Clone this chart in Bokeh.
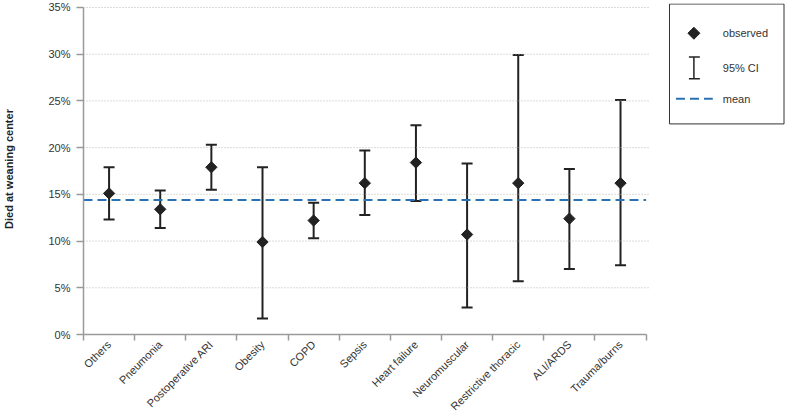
import math
from bokeh.plotting import figure
from bokeh.models import (ColumnDataSource, Range1d, FixedTicker, PrintfTickFormatter,
                          Whisker, TeeHead, LinearAxis)
from bokeh.core.properties import value
from bokeh.embed import file_html
from bokeh.resources import INLINE

# ---- data (percent) ----
categories = ["Others", "Pneumonia", "Postoperative ARI", "Obesity", "COPD", "Sepsis",
              "Heart failure", "Neuromuscular", "Restrictive thoracic", "ALI/ARDS", "Trauma/burns"]
observed = [15.1, 13.4, 17.9, 9.9, 12.2, 16.2, 18.4, 10.7, 16.2, 12.4, 16.2]
ci_low = [12.3, 11.4, 15.5, 1.7, 10.3, 12.8, 14.3, 2.9, 5.7, 7.0, 7.4]
ci_high = [17.9, 15.4, 20.3, 17.9, 14.1, 19.7, 22.4, 18.3, 29.9, 17.7, 25.1]
mean_value = 14.4
y_ticks = [0, 5, 10, 15, 20, 25, 30, 35]
legend_labels = ["observed", "95% CI", "mean"]

FONT = "Liberation Sans"
DARK = "#222222"
AXIS_GRAY = "#9a9a9a"
BLUE = "#2a72b5"

# ---- layout geometry (pixels) ----
W, H = 786, 419
FRAME_L, FRAME_R, FRAME_T = 80, 785, 3
PLOT_R = 645            # right end of the category area
Y_TOP_PX, Y_ZERO_PX = 7, 337   # pixel rows of 35% and 0% (for legend placement)

n = len(categories)
centers = [i + 0.5 for i in range(n)]
bounds = list(range(n + 1))
x_per_px = n / (PLOT_R - FRAME_L)
x_end = (FRAME_R - FRAME_L) * x_per_px
y_per_px = 35 / (Y_ZERO_PX - Y_TOP_PX)
y_end = 35 + (Y_TOP_PX - FRAME_T) * y_per_px


def px2x(px):
    return (px - FRAME_L) * x_per_px


def px2y(py):
    return (Y_ZERO_PX - py) * y_per_px


src = ColumnDataSource(dict(x=centers, obs=observed, lo=ci_low, hi=ci_high, cat=categories))

p = figure(width=W, height=H, x_range=Range1d(0, x_end), y_range=Range1d(0, y_end),
           output_backend="svg", toolbar_location=None, x_axis_type=None, y_axis_type=None,
           min_border_top=FRAME_T, min_border_left=FRAME_L, min_border_right=W - FRAME_R)
p.outline_line_color = None
p.background_fill_color = "white"
p.xgrid.visible = False
p.ygrid.visible = False

# x axis: labels at centers, ticks at category boundaries
xaxis = LinearAxis(ticker=FixedTicker(ticks=centers, minor_ticks=bounds), bounds=(0, n),
                   major_label_overrides={c: name for c, name in zip(centers, categories)})
xaxis.major_label_orientation = math.pi / 4
xaxis.major_tick_line_color = None
xaxis.major_tick_out = 0
xaxis.major_tick_in = 0
xaxis.minor_tick_out = 6
xaxis.minor_tick_in = 0
xaxis.minor_tick_line_color = AXIS_GRAY
xaxis.minor_tick_line_width = 1.5
xaxis.axis_line_color = AXIS_GRAY
xaxis.axis_line_width = 1.5
xaxis.major_label_text_font = FONT
xaxis.major_label_text_font_size = "11px"
xaxis.major_label_text_color = "#333333"
xaxis.major_label_standoff = 2
p.add_layout(xaxis, "below")

# y axis
ya = LinearAxis(ticker=FixedTicker(ticks=y_ticks), bounds=(0, 35),
                formatter=PrintfTickFormatter(format="%d%%"))
ya.axis_label = "Died at weaning center"
ya.axis_label_text_font = FONT
ya.axis_label_text_font_size = "11px"
ya.axis_label_text_font_style = "bold"
ya.axis_label_text_color = DARK
ya.axis_label_standoff = 30
ya.major_label_text_font = FONT
ya.major_label_text_font_size = "11px"
ya.major_label_text_color = "#333333"
ya.major_label_standoff = 6
ya.major_tick_out = 7
ya.major_tick_in = 0
ya.major_tick_line_color = AXIS_GRAY
ya.major_tick_line_width = 1.5
ya.minor_tick_line_color = None
ya.axis_line_color = AXIS_GRAY
ya.axis_line_width = 1.5
p.add_layout(ya, "left")

# horizontal dotted grid lines over the category area
grid_ticks = [t for t in y_ticks if t > 0]
p.segment(x0=[0] * len(grid_ticks), y0=grid_ticks, x1=[n + 0.05] * len(grid_ticks), y1=grid_ticks,
          line_color="#b5b5b5", line_width=1, line_dash="1 2")

# mean line
p.segment(x0=[0], y0=[mean_value], x1=[n], y1=[mean_value], line_color=BLUE,
          line_width=2, line_dash="9 5")

# error bars
w = Whisker(base="x", lower="lo", upper="hi", source=src, dimension="height",
            line_color=DARK, line_width=2,
            upper_head=TeeHead(size=11, line_color=DARK, line_width=2),
            lower_head=TeeHead(size=11, line_color=DARK, line_width=2))
p.add_layout(w)

# observed markers
p.scatter("x", "obs", source=src, marker="square", angle=math.pi / 4, size=8,
          fill_color=DARK, line_color=DARK)

# ---- legend box (drawn at fixed pixel spots on the right) ----
p.quad(left=[px2x(668.5)], right=[px2x(783.5)], top=[px2y(3.5)], bottom=[px2y(124.5)],
       fill_color="white", line_color="#333333", line_width=1)
p.scatter([px2x(693)], [px2y(33)], marker="square", angle=math.pi / 4, size=8.5,
          fill_color=DARK, line_color=DARK)
p.segment(x0=[px2x(693), px2x(688), px2x(688)], y0=[px2y(57), px2y(57), px2y(79)],
          x1=[px2x(693), px2x(699), px2x(699)], y1=[px2y(79), px2y(57), px2y(79)],
          line_color=DARK, line_width=1.5)
p.segment(x0=[px2x(675)], y0=[px2y(99)], x1=[px2x(712)], y1=[px2y(99)],
          line_color=BLUE, line_width=2, line_dash="9 5")
p.text([px2x(722)] * 3, [px2y(33), px2y(68), px2y(99)], text=legend_labels,
       text_font=value(FONT), text_font_size="11px", text_color="#333333",
       text_baseline="middle", text_align="left")

open("out.html", "w").write(file_html(p, INLINE))
